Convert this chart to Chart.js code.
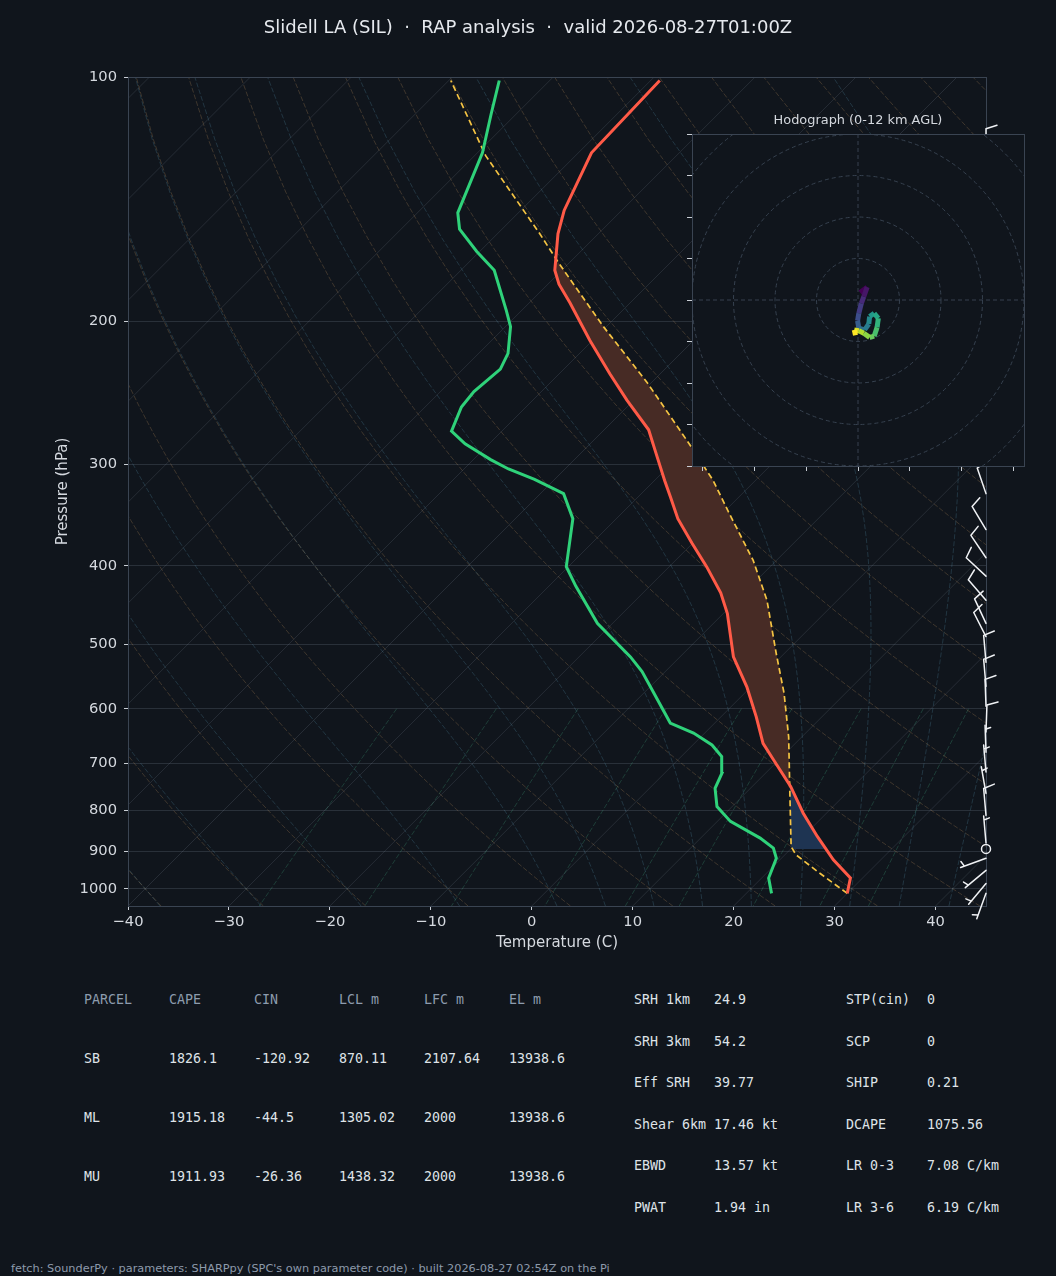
<!DOCTYPE html>
<html>
<head>
<meta charset="utf-8">
<script src="https://cdn.jsdelivr.net/npm/chart.js@4.4.1/dist/chart.umd.min.js"></script>
<style>
  html, body { margin: 0; padding: 0; background: #10151c; }
  #page { position: relative; width: 1056px; height: 1276px; overflow: hidden; font-family: 'DejaVu Sans', sans-serif; }
  #skew { position: absolute; left: 0; top: 0; }
  #hodo { position: absolute; left: 660px; top: 100px; }
  .t { position: absolute; white-space: pre; }
  .mono { font-family: 'DejaVu Sans Mono', monospace; font-size: 13.3px; line-height: 16px; color: #dfe3e8; }
  .head { color: #8d9cae; }
</style>
</head>
<body>
<div id="page">
  <canvas id="skew" width="1056" height="960"></canvas>
  <canvas id="hodo" width="380" height="380"></canvas>
  <div class="t" id="title" style="left:0;width:1056px;top:15px;text-align:center;font-size:18px;line-height:24px;color:#e6e9ee;"></div>
  <div class="t" id="hodoTitle" style="left:692px;width:332px;top:112px;text-align:center;font-size:12.9px;line-height:16px;color:#d4d8de;"></div>
  <div id="tables"></div>
  <div class="t" id="footer" style="left:11px;top:1262px;font-size:11.3px;line-height:14px;color:#8d9aab;"></div>
</div>
<script>
// ---- sounding ----
const TEMP_P = [1013, 970, 921, 862, 807, 748, 694, 662, 614, 564, 518, 458, 432, 401, 375, 350, 329, 314, 291, 272, 250, 232, 211, 190, 180, 173, 156, 146, 124, 101];
const TEMP_C = [30.0, 28.8, 25.3, 21.4, 17.7, 13.8, 9.5, 6.8, 3.5, -0.4, -4.7, -9.6, -12.3, -16.3, -20.1, -23.9, -26.8, -29.0, -32.5, -35.6, -40.7, -45.0, -50.3, -55.9, -58.9, -60.7, -64.0, -65.7, -68.7, -69.1];

const DEW_P = [1013, 970, 917, 891, 866, 826, 792, 752, 721, 687, 665, 643, 625, 574, 540, 518, 471, 424, 401, 350, 326, 313, 304, 296, 283, 273, 255, 244, 229, 219, 203, 194, 173, 164, 154, 147, 124, 111, 101];
const DEW_C = [22.5, 20.7, 19.5, 18.2, 15.9, 11.3, 8.5, 6.5, 5.7, 4.0, 1.9, -1.1, -4.4, -9.0, -12.3, -14.9, -21.5, -27.3, -30.2, -34.3, -37.7, -42.0, -45.6, -48.3, -52.4, -55.0, -56.4, -56.7, -56.3, -57.1, -59.5, -61.5, -66.7, -70.3, -74.2, -76.0, -79.5, -82.5, -85.0];

const PARCEL_P = [1013, 957, 908, 887, 752, 650, 574, 513, 441, 394, 345, 314, 283, 238, 203, 169, 156, 125, 101];
const PARCEL_T = [30.0, 25.3, 21.1, 19.8, 13.9, 8.7, 3.9, -0.8, -7.0, -12.3, -19.3, -24.2, -30.2, -40.4, -50.3, -61.2, -65.8, -78.9, -89.8];

// shading limits (hPa)
const CIN_BASE_P = 893, LFC_P = 752, EL_P = 169;

// wind barbs
const WIND_P   = [1013, 985, 949, 917, 893, 878, 812, 763, 718, 679, 641, 596, 563, 526, 489, 471, 441, 412, 391, 361, 326, 290, 250, 210, 175, 145, 125];
const WIND_DIR = [200, 220, 230, 250, 0, 355, 355, 350, 355, 358, 2, 358, 355, 355, 333, 335, 319, 313, 326, 329, 341, 345, 340, 350, 5, 0, 0];
const WIND_KT  = [5, 5, 5, 5, 0, 5, 10, 5, 5, 5, 10, 10, 10, 10, 10, 10, 10, 10, 10, 10, 10, 10, 10, 10, 10, 10, 10];

// hodograph (kt), surface -> 12 km
const HODO_U = [0.5, 2.2, 1.4, 0.8, 0.2, -0.1, 0.2, 1.6, 2.6, 2.8, 3.9, 4.9, 4.6, 3.9, 2.8, 1.4, 0.2, -0.9, -0.6];
const HODO_V = [1.8, 3.1, 0.8, -0.8, -3.2, -5.0, -6.8, -7.2, -5.8, -4.0, -3.2, -4.4, -6.6, -8.7, -9.0, -8.0, -7.4, -7.2, -8.5];

const P_TICKS = [100, 200, 300, 400, 500, 600, 700, 800, 900, 1000];
const T_TICKS = [-40, -30, -20, -10, 0, 10, 20, 30, 40];
const HODO_XTICKS = [-37.5, -25, -12.5, 0, 12.5, 25, 37.5];
const HODO_YTICKS = [-40, -30, -20, -10, 0, 10, 20, 30, 40];
const HODO_RINGS = [10, 20, 30, 40, 50];

// text
const TITLE = 'Slidell LA (SIL)  \u00b7  RAP analysis  \u00b7  valid 2026-08-27T01:00Z';
const FOOTER = "fetch: SounderPy \u00b7 parameters: SHARPpy (SPC's own parameter code) \u00b7 built 2026-08-27 02:54Z on the Pi";
const PARCEL_HEAD = ['PARCEL', 'CAPE', 'CIN', 'LCL m', 'LFC m', 'EL m'];
const PARCEL_ROWS = [
  ['SB', '1826.1', '-120.92', '870.11', '2107.64', '13938.6'],
  ['ML', '1915.18', '-44.5', '1305.02', '2000', '13938.6'],
  ['MU', '1911.93', '-26.36', '1438.32', '2000', '13938.6']
];
const INDEX_A = [['SRH 1km', '24.9'], ['SRH 3km', '54.2'], ['Eff SRH', '39.77'], ['Shear 6km', '17.46 kt'], ['EBWD', '13.57 kt'], ['PWAT', '1.94 in']];
const INDEX_B = [['STP(cin)', '0'], ['SCP', '0'], ['SHIP', '0.21'], ['DCAPE', '1075.56'], ['LR 0-3', '7.08 C/km'], ['LR 3-6', '6.19 C/km']];

// ---- look ----
const FONT = "'DejaVu Sans', sans-serif";
const BG = '#10151c';
const SPINE = '#3a4452';
const TICK_TEXT = '#d5d9df';
const TICK_MARK = '#c9ced5';

// skew-T geometry: plot box on the page, isotherms at 45 degrees
const P_BOT = 1050, P_TOP = 100, T_MIN = -40, T_MAX = 45;
const BOX = { left: 128, top: 77, right: 986, bottom: 906 };
const SKEW = ((BOX.bottom - BOX.top) / Math.log(P_BOT / P_TOP)) / ((BOX.right - BOX.left) / (T_MAX - T_MIN));
const sx = (t, p) => t + SKEW * Math.log(P_BOT / p);
const pts = (ps, ts) => ps.map((p, i) => ({ x: sx(ts[i], p), y: p }));

// ---- thermodynamic guide lines (background grid of the diagram) ----
const RD = 287.04, CPD = 1005.7, LV = 2.501e6, EPS = 0.622, KAPPA = 0.2857;
const GRID_P = Array.from({ length: 50 }, (_, i) => P_BOT - (P_BOT - P_TOP) * i / 49);
const MIX_P = Array.from({ length: 50 }, (_, i) => 600 + (P_BOT - 600) * i / 49);

function satVap(tK) { const c = tK - 273.15; return 6.112 * Math.exp(17.67 * c / (c + 243.5)); }
function moistSlope(p, tK) {
  const es = satVap(tK);
  if (es > 0.6 * p) return NaN;
  const rs = EPS * es / (p - es);
  return (1 / p) * (RD * tK + LV * rs) / (CPD + (LV * LV * rs * EPS) / (RD * tK * tK));
}
function integrate(t, p0, p1) {
  const n = Math.max(1, Math.ceil(Math.abs(p1 - p0) / 2));
  const dp = (p1 - p0) / n;
  let p = p0;
  for (let i = 0; i < n; i++) {
    const k1 = moistSlope(p, t), k2 = moistSlope(p + dp / 2, t + dp / 2 * k1);
    const k3 = moistSlope(p + dp / 2, t + dp / 2 * k2), k4 = moistSlope(p + dp, t + dp * k3);
    t += dp / 6 * (k1 + 2 * k2 + 2 * k3 + k4);
    p += dp;
    if (!isFinite(t)) return NaN;
  }
  return t;
}
function moistLine(t0) {
  const out = [];
  let t = t0 + 273.15, pPrev = 1000;
  GRID_P.filter(p => p > 1000).reverse().forEach(p => {
    t = integrate(t, pPrev, p); pPrev = p;
    if (isFinite(t)) out.unshift({ x: sx(t - 273.15, p), y: p });
  });
  t = t0 + 273.15; pPrev = 1000;
  for (const p of GRID_P.filter(p => p <= 1000)) {
    t = integrate(t, pPrev, p); pPrev = p;
    if (!isFinite(t)) break;
    out.push({ x: sx(t - 273.15, p), y: p });
  }
  return out;
}
function dewFromMix(w, p) {
  const e = p * w / (EPS + w), l = Math.log(e / 6.112);
  return 243.5 * l / (17.67 - l);
}

const guide = (data, color, dash) => ({
  data, borderColor: color, borderWidth: 1, borderDash: dash, pointRadius: 0, fill: false, order: 20
});
const guides = [];
for (let t = -130; t <= 40; t += 10) {
  guides.push(guide([{ x: sx(t, P_BOT), y: P_BOT }, { x: sx(t, P_TOP), y: P_TOP }], 'rgba(150,162,178,0.17)', []));
}
for (let th = -40; th <= 240; th += 10) {
  guides.push(guide(GRID_P.map(p => ({ x: sx((th + 273.15) * Math.pow(p / 1000, KAPPA) - 273.15, p), y: p })), 'rgba(196,150,96,0.26)', [5, 2]));
}
[-40, -30, -20, -10].concat(Array.from({ length: 20 }, (_, i) => i * 5)).forEach(t0 => {
  guides.push(guide(moistLine(t0), 'rgba(90,160,190,0.24)', [5, 2]));
});
[0.0004, 0.001, 0.002, 0.004, 0.007, 0.01, 0.016, 0.024, 0.032].forEach(w => {
  guides.push(guide(MIX_P.map(p => ({ x: sx(dewFromMix(w, p), p), y: p })), 'rgba(70,170,130,0.28)', [5, 2]));
});

// ---- CAPE / CIN areas built from the profiles ----
function tAt(ps, ts, p) {
  for (let i = 0; i < ps.length - 1; i++) {
    if ((ps[i] - p) * (ps[i + 1] - p) <= 0) {
      const f = Math.log(ps[i] / p) / Math.log(ps[i] / ps[i + 1]);
      return ts[i] + f * (ts[i + 1] - ts[i]);
    }
  }
  return NaN;
}
function band(pLo, pHi) {
  const poly = [{ x: sx(tAt(PARCEL_P, PARCEL_T, pLo), pLo), y: pLo }];
  PARCEL_P.forEach((p, i) => { if (p < pLo && p > pHi) poly.push({ x: sx(PARCEL_T[i], p), y: p }); });
  poly.push({ x: sx(tAt(PARCEL_P, PARCEL_T, pHi), pHi), y: pHi });
  poly.push({ x: sx(tAt(TEMP_P, TEMP_C, pHi), pHi), y: pHi });
  TEMP_P.map((p, i) => [p, TEMP_C[i]]).filter(a => a[0] < pLo && a[0] > pHi).reverse()
    .forEach(a => poly.push({ x: sx(a[1], a[0]), y: a[0] }));
  poly.push({ x: sx(tAt(TEMP_P, TEMP_C, pLo), pLo), y: pLo });
  poly.push(poly[0]);
  return poly;
}

// ---- plugins ----
function drawBarb(ctx, x0, y0, dir, kt) {
  const L = 27, H = 11, W = 6.8, SP = 4;
  if (kt < 2.5) { ctx.beginPath(); ctx.arc(x0, y0, 4.5, 0, 2 * Math.PI); ctx.stroke(); return; }
  const r = dir * Math.PI / 180, dx = Math.sin(r), dy = -Math.cos(r);
  const px = -dy, py = dx;
  const tx = x0 + dx * L, ty = y0 + dy * L;
  const s = Math.round(kt / 5) * 5;
  const full = Math.floor(s / 10), half = s % 10 >= 5;
  ctx.beginPath();
  ctx.moveTo(x0, y0); ctx.lineTo(tx, ty);
  let pos = (full === 0 && half) ? SP : 0;
  for (let k = 0; k < full; k++) {
    const bx = tx - dx * pos, by = ty - dy * pos;
    ctx.moveTo(bx, by); ctx.lineTo(bx + px * H + dx * W / 2, by + py * H + dy * W / 2);
    pos += SP;
  }
  if (half) {
    const bx = tx - dx * pos, by = ty - dy * pos;
    ctx.moveTo(bx, by); ctx.lineTo(bx + px * H / 2 + dx * W / 4, by + py * H / 2 + dy * W / 4);
  }
  ctx.stroke();
}
const skewDecor = {
  id: 'skewDecor',
  afterDraw(chart) {
    const { ctx, chartArea: a, scales: { y } } = chart;
    ctx.save();
    ctx.strokeStyle = SPINE; ctx.lineWidth = 1;
    ctx.strokeRect(a.left + 0.5, a.top + 0.5, a.right - a.left, a.bottom - a.top);
    ctx.strokeStyle = '#f0f2f5'; ctx.lineWidth = 1.5; ctx.lineCap = 'round';
    WIND_P.forEach((p, i) => drawBarb(ctx, a.right, y.getPixelForValue(p), WIND_DIR[i], WIND_KT[i]));
    ctx.restore();
  }
};

const minus = v => (v < 0 ? '\u2212' + Math.abs(v) : String(v));
const TICK_FONT = { family: FONT, size: 14.7 };
const LABEL_FONT = { family: FONT, size: 15 };

new Chart(document.getElementById('skew'), {
  type: 'line',
  data: {
    datasets: [
      { data: pts(TEMP_P, TEMP_C), borderColor: '#ff5a47', borderWidth: 3, pointRadius: 0, fill: false, order: 1 },
      { data: pts(DEW_P, DEW_C), borderColor: '#2fd27a', borderWidth: 3, pointRadius: 0, fill: false, order: 2 },
      { data: pts(PARCEL_P, PARCEL_T), borderColor: '#f5c443', borderWidth: 1.7, borderDash: [6, 3.5], pointRadius: 0, fill: false, order: 3 },
      { data: band(LFC_P, EL_P), borderWidth: 0, borderColor: 'rgba(0,0,0,0)', backgroundColor: '#472b25', pointRadius: 0, fill: 'shape', order: 10 },
      { data: band(CIN_BASE_P, LFC_P), borderWidth: 0, borderColor: 'rgba(0,0,0,0)', backgroundColor: '#1e3452', pointRadius: 0, fill: 'shape', order: 10 },
      ...guides
    ]
  },
  options: {
    responsive: false, animation: false, devicePixelRatio: 1, events: [],
    layout: { padding: { top: BOX.top, right: 1056 - BOX.right, bottom: 0, left: 0 } },
    plugins: { legend: { display: false }, tooltip: { enabled: false } },
    scales: {
      x: {
        type: 'linear', min: T_MIN, max: T_MAX,
        afterFit: s => { s.height = 960 - BOX.bottom; },
        afterBuildTicks: s => { s.ticks = T_TICKS.map(v => ({ value: v })); },
        ticks: { color: TICK_TEXT, font: TICK_FONT, padding: 3, maxRotation: 0, autoSkip: false, callback: v => minus(v) },
        grid: { drawOnChartArea: false, drawTicks: true, tickLength: 4, tickColor: TICK_MARK },
        border: { color: SPINE },
        title: { display: true, text: 'Temperature (C)', color: TICK_TEXT, font: LABEL_FONT, padding: { top: 0, bottom: 8 } }
      },
      y: {
        type: 'logarithmic', reverse: true, min: P_TOP, max: P_BOT,
        afterFit: s => { s.width = BOX.left; },
        afterBuildTicks: s => { s.ticks = P_TICKS.map(v => ({ value: v })); },
        ticks: { color: TICK_TEXT, font: TICK_FONT, padding: 7, autoSkip: false, callback: v => String(v) },
        grid: { color: 'rgba(130,145,165,0.22)', tickColor: TICK_MARK, tickLength: 4 },
        border: { color: SPINE },
        title: { display: true, text: 'Pressure (hPa)', color: TICK_TEXT, font: LABEL_FONT, padding: { top: 54, bottom: 0 } }
      }
    }
  },
  plugins: [skewDecor]
});

// ---- hodograph ----
const VIRIDIS = ['#440154', '#482878', '#3e4989', '#31688e', '#26828e', '#1f9e89', '#35b779', '#6ece58', '#b5de2b', '#fde725'];
function viridis(f) {
  const x = Math.max(0, Math.min(1, f)) * (VIRIDIS.length - 1), i = Math.min(Math.floor(x), VIRIDIS.length - 2), k = x - i;
  const a = VIRIDIS[i], b = VIRIDIS[i + 1];
  const c = j => Math.round(parseInt(a.substr(j, 2), 16) * (1 - k) + parseInt(b.substr(j, 2), 16) * k);
  return `rgb(${c(1)},${c(3)},${c(5)})`;
}
const hodoDecor = {
  id: 'hodoDecor',
  beforeDraw(chart) {
    const { ctx, chartArea: a } = chart;
    ctx.save(); ctx.fillStyle = BG; ctx.fillRect(a.left, a.top, a.right - a.left, a.bottom - a.top); ctx.restore();
  },
  beforeDatasetsDraw(chart) {
    const { ctx, chartArea: a, scales: { x, y } } = chart;
    const cx = x.getPixelForValue(0), cy = y.getPixelForValue(0);
    ctx.save();
    ctx.beginPath(); ctx.rect(a.left, a.top, a.right - a.left, a.bottom - a.top); ctx.clip();
    ctx.strokeStyle = '#36414f'; ctx.lineWidth = 1; ctx.setLineDash([4, 3]);
    HODO_RINGS.forEach(r => {
      ctx.beginPath(); ctx.arc(cx, cy, x.getPixelForValue(r) - cx, 0, 2 * Math.PI); ctx.stroke();
    });
    ctx.beginPath();
    ctx.moveTo(a.left, cy); ctx.lineTo(a.right, cy);
    ctx.moveTo(cx, a.top); ctx.lineTo(cx, a.bottom);
    ctx.stroke();
    ctx.restore();
  },
  afterDraw(chart) {
    const { ctx, chartArea: a } = chart;
    ctx.save(); ctx.strokeStyle = SPINE; ctx.lineWidth = 1;
    ctx.strokeRect(a.left + 0.5, a.top + 0.5, a.right - a.left, a.bottom - a.top);
    ctx.restore();
  }
};
const nH = HODO_U.length;
new Chart(document.getElementById('hodo'), {
  type: 'line',
  data: {
    datasets: [{
      data: HODO_U.map((u, i) => ({ x: u, y: HODO_V[i] })),
      borderWidth: 5, pointRadius: 0, fill: false, borderJoinStyle: 'round',
      segment: { borderColor: c => viridis(c.p0DataIndex / (nH - 2)) }
    }]
  },
  options: {
    responsive: false, animation: false, devicePixelRatio: 1, events: [],
    layout: { padding: { left: 27, top: 34, right: 16, bottom: 9 } },
    plugins: { legend: { display: false }, tooltip: { enabled: false } },
    scales: {
      x: {
        type: 'linear', min: -40, max: 40,
        afterFit: s => { s.height = 5; },
        afterBuildTicks: s => { s.ticks = HODO_XTICKS.map(v => ({ value: v })); },
        ticks: { display: false },
        grid: { drawOnChartArea: false, tickLength: 5, tickColor: TICK_MARK },
        border: { color: SPINE }
      },
      y: {
        type: 'linear', min: -40, max: 40,
        afterFit: s => { s.width = 5; },
        afterBuildTicks: s => { s.ticks = HODO_YTICKS.map(v => ({ value: v })); },
        ticks: { display: false },
        grid: { drawOnChartArea: false, tickLength: 5, tickColor: TICK_MARK },
        border: { color: SPINE }
      }
    }
  },
  plugins: [hodoDecor]
});

// ---- text ----
document.getElementById('title').textContent = TITLE;
document.getElementById('hodoTitle').textContent = 'Hodograph (0-12 km AGL)';
document.getElementById('footer').textContent = FOOTER;
const tables = document.getElementById('tables');
function cell(text, x, yc, cls) {
  const d = document.createElement('div');
  d.className = 't mono' + (cls ? ' ' + cls : '');
  d.style.left = x + 'px'; d.style.top = (yc - 8) + 'px';
  d.textContent = text;
  tables.appendChild(d);
}
const COLX = [84, 169, 254, 339, 424, 509];
PARCEL_HEAD.forEach((h, j) => cell(h, COLX[j], 1000, 'head'));
PARCEL_ROWS.forEach((row, i) => row.forEach((v, j) => cell(v, COLX[j], 1059 + i * 59, '')));
const ROWY = [1000, 1042, 1083, 1125, 1166, 1208];
INDEX_A.forEach((r, i) => { cell(r[0], 634, ROWY[i], ''); cell(r[1], 714, ROWY[i], ''); });
INDEX_B.forEach((r, i) => { cell(r[0], 846, ROWY[i], ''); cell(r[1], 927, ROWY[i], ''); });
</script>
</body>
</html>
